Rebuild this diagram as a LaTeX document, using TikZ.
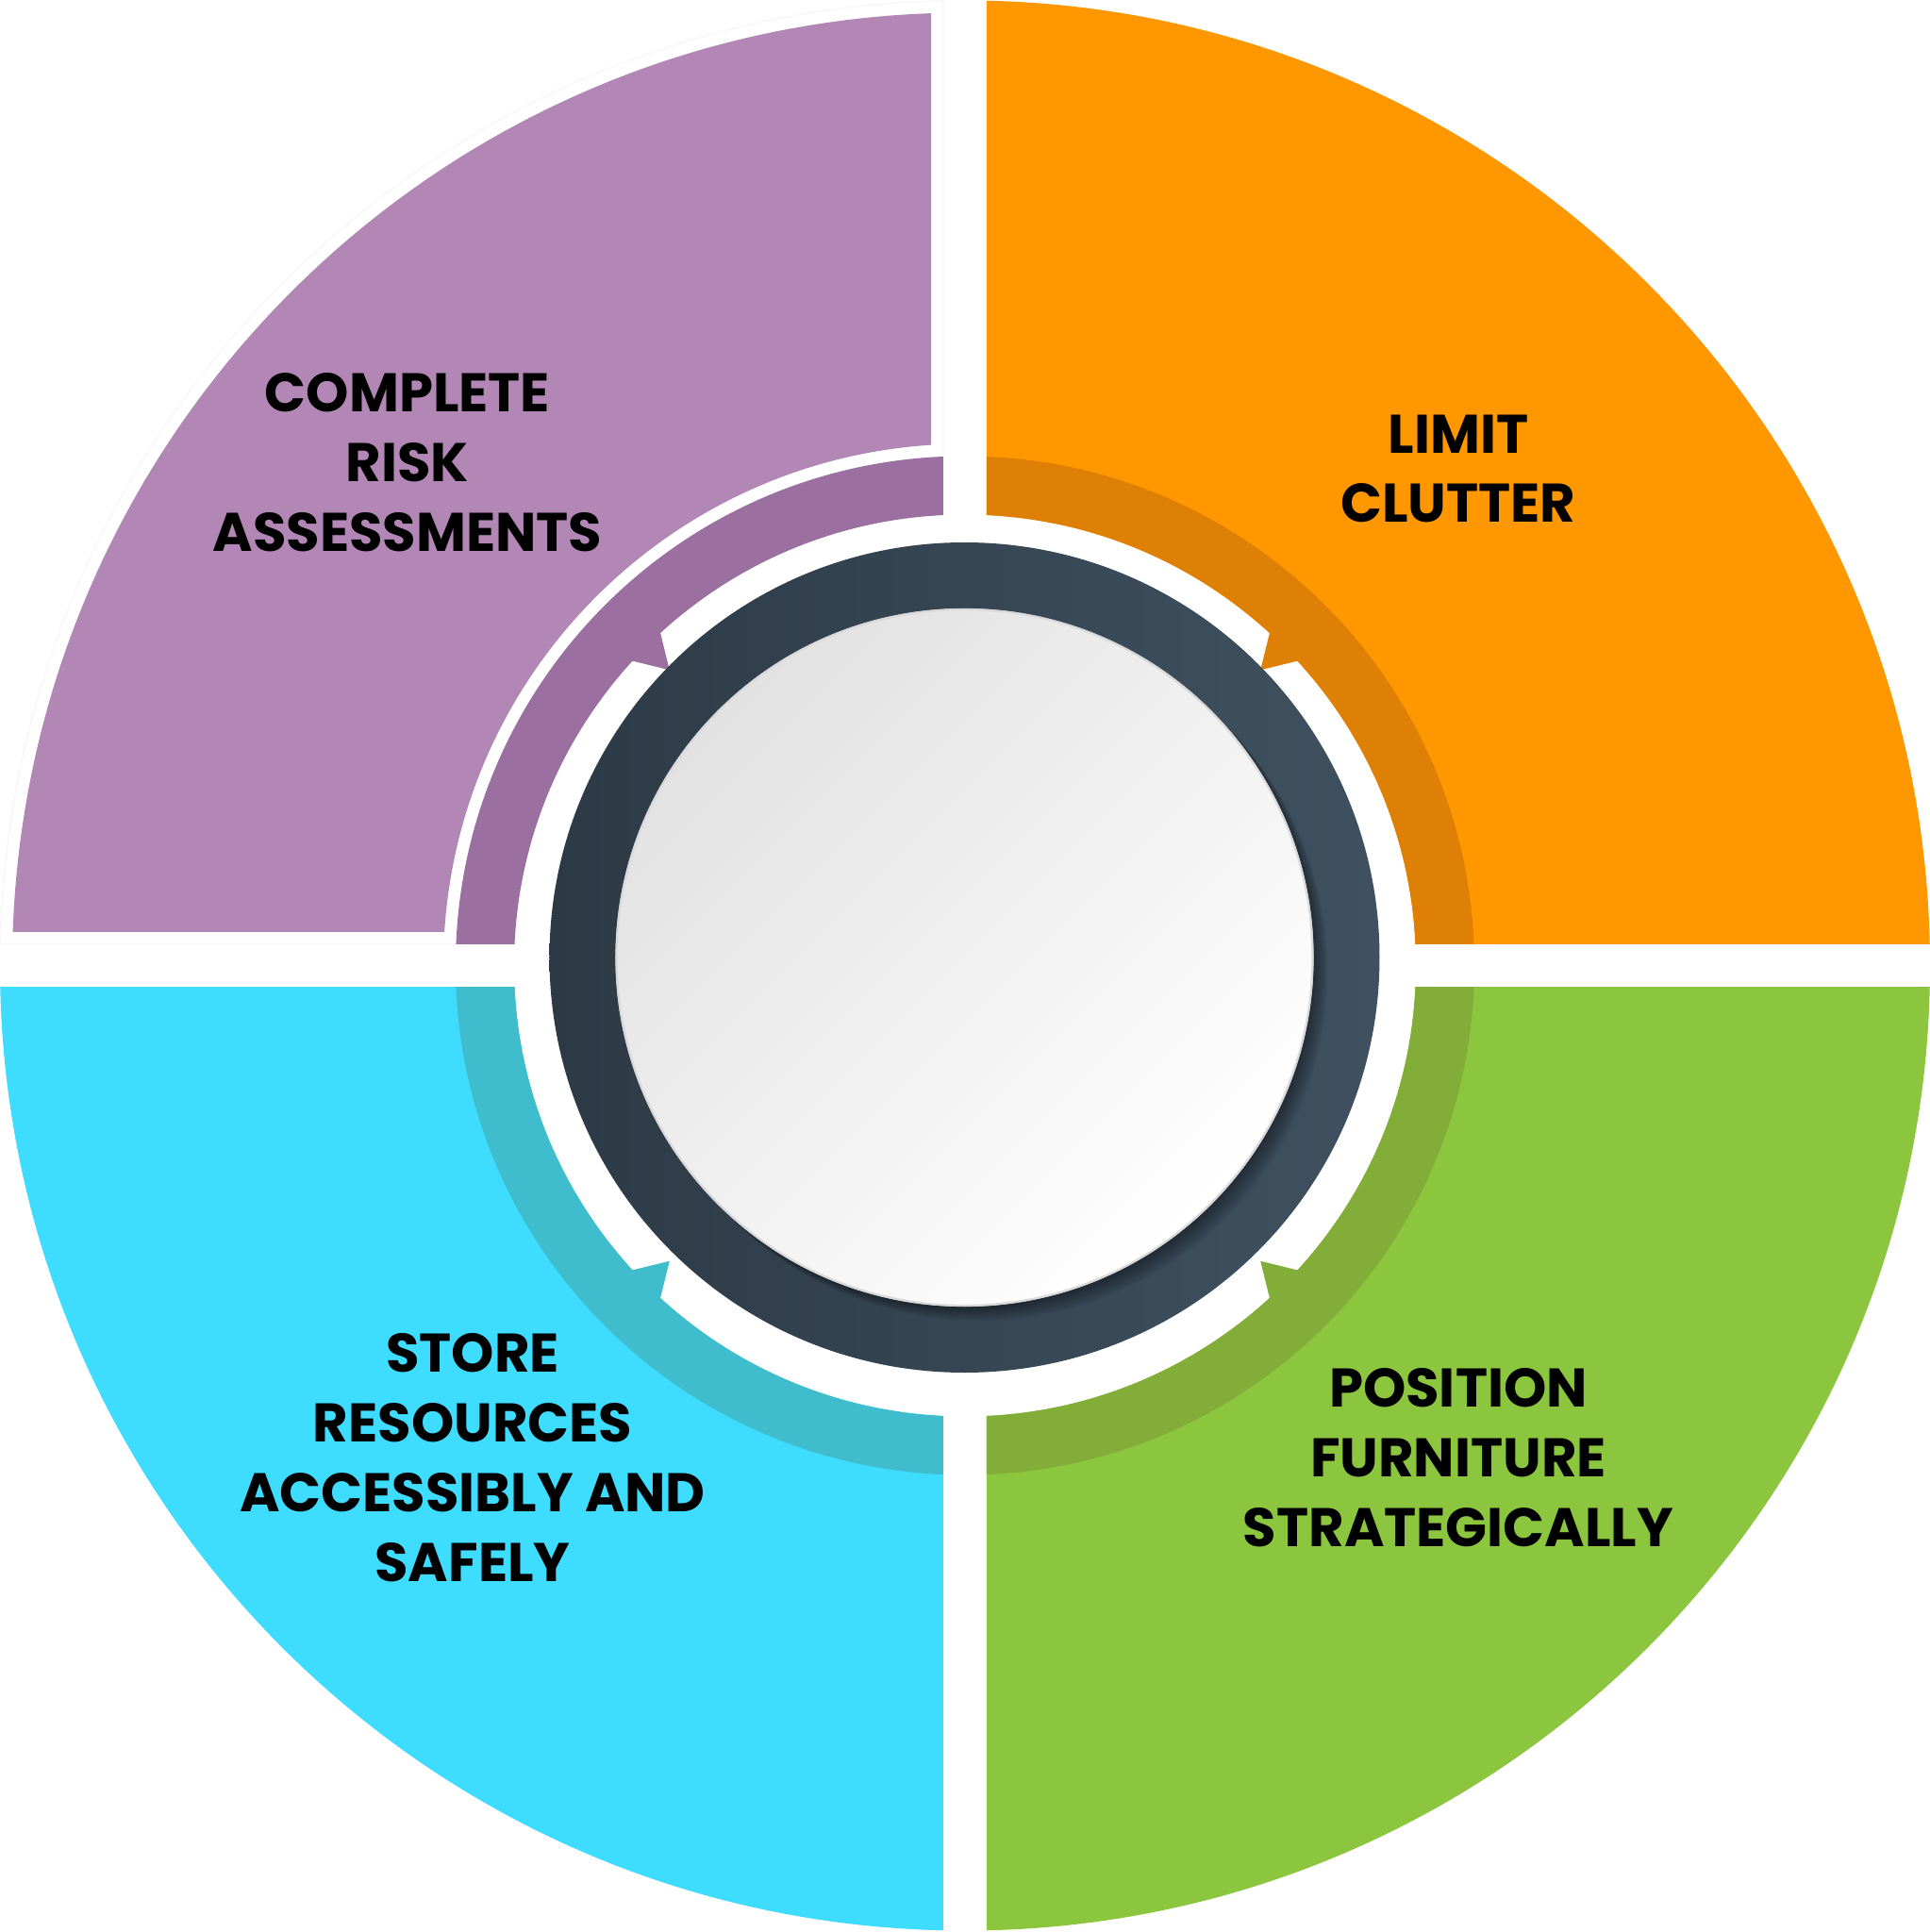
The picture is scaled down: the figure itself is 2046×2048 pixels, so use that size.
\documentclass[tikz,border=0pt]{standalone}
\usepackage{fontspec}
\newfontfamily\quadfont{Poppins}
\usetikzlibrary{calc}

\definecolor{purpleLight}{HTML}{B287B5}
\definecolor{purpleDark}{HTML}{9B6F9F}
\definecolor{orangeLight}{HTML}{FF9800}
\definecolor{orangeDark}{HTML}{DF8006}
\definecolor{greenLight}{HTML}{8CC63F}
\definecolor{greenDark}{HTML}{82AD39}
\definecolor{cyanLight}{HTML}{3EDCFF}
\definecolor{cyanDark}{HTML}{3FBDCD}
\definecolor{ringDark}{HTML}{2D3A46}
\definecolor{ringLight}{HTML}{3F5160}
\definecolor{discTop}{HTML}{E2E2E2}
\definecolor{discRim}{HTML}{D9D9D9}

\begin{document}
\begin{tikzpicture}[x=0.01cm, y=0.01cm,
  quadtext/.style={font=\quadfont\bfseries\fontsize{16.4}{21}\selectfont,
                   align=center, text=black, inner sep=0pt}]

% canvas
\useasboundingbox (-1023,-1024.5) rectangle (1023,1023.5);
\fill[white] (-1023,-1024.5) rectangle (1023,1023.5);

% ---- upper right: orange ----
\begin{scope}
  \clip (23,23) rectangle (1030,1030);
  \fill[orangeLight, even odd rule] (0,0) circle (1023) (0,0) circle (478);
  \fill[orangeDark, even odd rule] (0,0) circle (540) (0,0) circle (478);
\end{scope}
\fill[orangeDark] (42.3:481) -- (45:443) -- (47.7:481) -- cycle;

% ---- lower right: green ----
\begin{scope}
  \clip (23,-23) rectangle (1030,-1030);
  \fill[greenLight, even odd rule] (0,0) circle (1023) (0,0) circle (478);
  \fill[greenDark, even odd rule] (0,0) circle (540) (0,0) circle (478);
\end{scope}
\fill[greenDark] (-42.3:481) -- (-45:443) -- (-47.7:481) -- cycle;

% ---- lower left: cyan ----
\begin{scope}
  \clip (-23,-23) rectangle (-1030,-1030);
  \fill[cyanLight, even odd rule] (0,0) circle (1023) (0,0) circle (478);
  \fill[cyanDark, even odd rule] (0,0) circle (540) (0,0) circle (478);
\end{scope}
\fill[cyanDark] (222.3:481) -- (225:443) -- (227.7:481) -- cycle;

% ---- upper left: purple (outer part inset) ----
\draw[purpleLight!8, line width=0.012cm]
  (-23,539.5) -- (-23,1022.74) arc[start angle=91.29, end angle=178.71, radius=1023]
  -- (-539.5,23);
\begin{scope}
  \clip (-36,36) rectangle (-1030,1030);
  \fill[purpleLight, even odd rule] (0,0) circle (1010) (0,0) circle (553);
\end{scope}
\begin{scope}
  \clip (-23,23) rectangle (-1030,1030);
  \fill[purpleDark, even odd rule] (0,0) circle (540) (0,0) circle (478);
\end{scope}
\fill[purpleDark] (132.3:481) -- (135:443) -- (137.7:481) -- cycle;

% ---- central ring ----
\coordinate (rc) at (-0.5,8.5);
\shade[left color=ringDark, right color=ringLight] (rc) circle (440);
% soft shadow cast by the disc onto the ring
\begin{scope}
  \clip (rc) circle (440);
  \foreach \k in {2,4,...,20}
    \fill[black, opacity=0.045] ($(rc)+(0.75*\k,-0.75*\k)$) circle (370);
\end{scope}
% white disc
\shade[top color=discTop, bottom color=white, shading angle=45] (rc) circle (370);
\draw[discRim, line width=0.022cm] (rc) circle (369);

% ---- labels ----
\node[quadtext] (riskText) at (-591,533.5) {COMPLETE\\RISK\\ASSESSMENTS};
\node[quadtext] (clutterText) at (523,526.5) {LIMIT\\CLUTTER};
\node[quadtext] (furnitureText) at (523,-522) {POSITION\\FURNITURE\\STRATEGICALLY};
\node[quadtext] (storeText) at (-522,-521.5) {STORE\\RESOURCES\\ACCESSIBLY AND\\SAFELY};

\end{tikzpicture}
\end{document}
